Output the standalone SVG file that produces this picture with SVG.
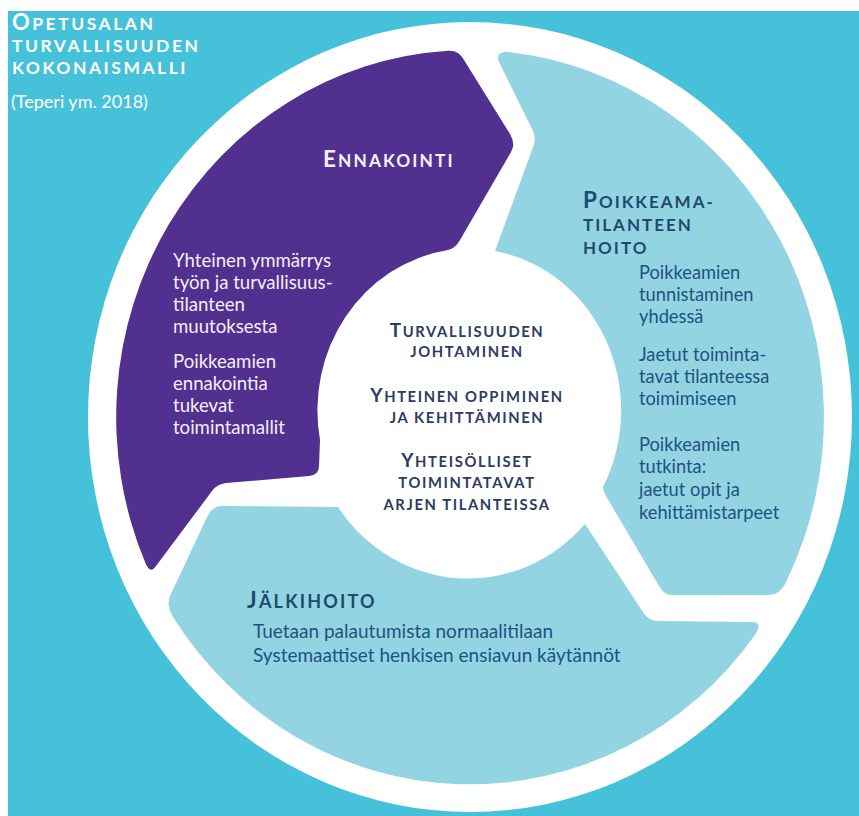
<svg xmlns="http://www.w3.org/2000/svg" width="859" height="816" viewBox="0 0 859 816">
<style>
text{font-family:Lato,"Open Sans","Noto Sans",sans-serif}
.title{fill:#ffffff;font-weight:700;font-size:17.5px;letter-spacing:2.5px}
.tcap{font-size:22px}
.cite{fill:#ffffff;font-size:18px;font-weight:400}
.hp{fill:#f4effa;font-weight:700;font-size:17.3px;letter-spacing:2.1px}
.hb{fill:#1d4b6e;font-weight:700;font-size:17px;letter-spacing:2px}
.hj{fill:#1d4b6e;font-weight:700;font-size:18px;letter-spacing:2.2px}
.cap{font-size:22.5px}
.bp{fill:#f4effa;font-size:18.6px}
.bb{fill:#20527e;font-size:18.3px}
.bj{fill:#20527e;font-size:19px}
.ct{fill:#2e3b62;font-weight:700;font-size:14.8px;letter-spacing:1.6px;text-anchor:middle}
.ccap{font-size:19px}
.light{fill:#93d4e3}
.purple{fill:#51308f}
</style>
<rect x="0" y="0" width="859" height="816" fill="#ffffff"/>
<rect id="background" x="8" y="11" width="851" height="805" fill="#45c2d9"/>
<g id="title">
<text class="title" x="12" y="30"><tspan class="tcap">O</tspan>PETUSALAN</text>
<text class="title" x="12" y="52">TURVALLISUUDEN</text>
<text class="title" x="12" y="74">KOKONAISMALLI</text>
<text class="cite" x="11" y="108">(Teperi ym. 2018)</text>
</g>
<ellipse id="ring" cx="470" cy="417" rx="382" ry="395" fill="#ffffff"/>
<g id="node-ennakointi">
<path class="purple" d="M156,566 Q150,575 145,562 A354 367 0 0 1 448,50.7 Q459,50 464,60 L510,134 Q516,144 511,152 L460,240 Q455,249 447,250.3 A153 162 0 0 0 320,440 L319,466 Q319,475 309,476 L226,483 Q217,484 212,491 Z"/>
<text class="hp" x="323" y="167"><tspan class="cap">E</tspan>NNAKOINTI</text>
<text class="bp" x="173" y="267">Yhteinen ymmärrys</text>
<text class="bp" x="173" y="289">työn ja turvallisuus-</text>
<text class="bp" x="173" y="311">tilanteen</text>
<text class="bp" x="173" y="333">muutoksesta</text>
<text class="bp" x="173" y="368">Poikkeamien</text>
<text class="bp" x="173" y="390">ennakointia</text>
<text class="bp" x="173" y="412">tukevat</text>
<text class="bp" x="173" y="434">toimintamallit</text>
</g>
<g id="node-poikkeama">
<path class="light" d="M507,51.8 A354 367 0 0 1 787,580 Q781,595 768,595 L672,595 Q664,595 659,586 L606,496 Q603,490 603,487 A153 162 0 0 0 495,251 L532,150 Q537,140 533,131 L499,62 Q495,52 507,51.8 Z"/>
<text class="hb" x="583" y="208"><tspan class="cap">P</tspan>OIKKEAMA-</text>
<text class="hb" x="583" y="231">TILANTEEN</text>
<text class="hb" x="583" y="254">HOITO</text>
<text class="bb" x="639" y="279">Poikkeamien</text>
<text class="bb" x="639" y="301">tunnistaminen</text>
<text class="bb" x="639" y="323">yhdessä</text>
<text class="bb" x="639" y="361">Jaetut toiminta-</text>
<text class="bb" x="639" y="383">tavat tilanteessa</text>
<text class="bb" x="639" y="405">toimimiseen</text>
<text class="bb" x="639" y="451">Poikkeamien</text>
<text class="bb" x="639" y="473">tutkinta:</text>
<text class="bb" x="639" y="496">jaetut opit ja</text>
<text class="bb" x="639" y="519">kehittämistarpeet</text>
</g>
<g id="node-jalkihoito">
<path class="light" d="M222,506 L338,507 A158 166 0 0 0 585,524 L643,612 Q648,621 660,621 L750,622 Q764,621 755,635 A354 367 0 0 1 173,617 Q166,605 170,596 L208,515 Q213,506 222,506 Z"/>
<text class="hj" x="247" y="608"><tspan class="cap">J</tspan>ÄLKIHOITO</text>
<text class="bj" x="253" y="638">Tuetaan palautumista normaalitilaan</text>
<text class="bj" x="253" y="662">Systemaattiset henkisen ensiavun käytännöt</text>
</g>
<g id="node-center">
<text class="ct" x="467" y="337"><tspan class="ccap">T</tspan>URVALLISUUDEN</text>
<text class="ct" x="467" y="357">JOHTAMINEN</text>
<text class="ct" x="467" y="402"><tspan class="ccap">Y</tspan>HTEINEN OPPIMINEN</text>
<text class="ct" x="467" y="423">JA KEHITTÄMINEN</text>
<text class="ct" x="467" y="467"><tspan class="ccap">Y</tspan>HTEISÖLLISET</text>
<text class="ct" x="467" y="488">TOIMINTATAVAT</text>
<text class="ct" x="467" y="510">ARJEN TILANTEISSA</text>
</g>
<g id="connectors"/>
</svg>
